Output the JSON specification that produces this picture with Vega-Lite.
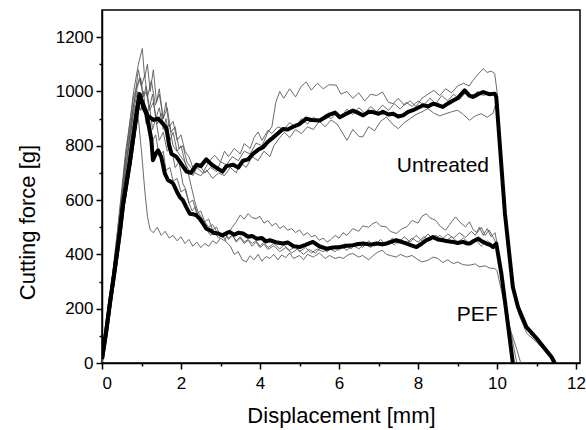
{
  "$schema": "https://vega.github.io/schema/vega-lite/v6.json",
  "width": 478,
  "height": 353,
  "autosize": {"type": "none"},
  "padding": {"left": 102, "top": 10, "right": 6, "bottom": 67},
  "background": "white",
  "config": {
    "view": {"stroke": "black", "strokeWidth": 1.5},
    "font": "Liberation Sans",
    "axis": {
      "domainColor": "black", "domainWidth": 1.5, "tickColor": "black", "tickWidth": 1.5,
      "labelFont": "Liberation Sans", "titleFont": "Liberation Sans",
      "labelFontSize": 17, "titleFontSize": 22, "labelColor": "black", "titleColor": "black",
      "titleFontWeight": "normal", "grid": false
    }
  },
  "datasets": {
    "thick": [
      {"s":"U","x":0,"y":15},{"s":"U","x":0.1,"y":110},{"s":"U","x":0.2,"y":220},{"s":"U","x":0.32,"y":341},{"s":"U","x":0.45,"y":480},{"s":"U","x":0.53,"y":580},{"s":"U","x":0.7,"y":734},{"s":"U","x":0.85,"y":890},{"s":"U","x":0.95,"y":990},
      {"s":"U","x":1.02,"y":960},{"s":"U","x":1.16,"y":910},{"s":"U","x":1.3,"y":895},{"s":"U","x":1.42,"y":900},{"s":"U","x":1.55,"y":880},{"s":"U","x":1.63,"y":865},{"s":"U","x":1.7,"y":800},{"s":"U","x":1.76,"y":770},{"s":"U","x":1.88,"y":760},{"s":"U","x":2.0,"y":735},{"s":"U","x":2.14,"y":705},{"s":"U","x":2.25,"y":700},{"s":"U","x":2.39,"y":730},{"s":"U","x":2.5,"y":725},{"s":"U","x":2.64,"y":750},{"s":"U","x":2.78,"y":730},{"s":"U","x":2.94,"y":715},{"s":"U","x":3.05,"y":705},{"s":"U","x":3.15,"y":725},{"s":"U","x":3.32,"y":730},{"s":"U","x":3.45,"y":720},{"s":"U","x":3.57,"y":745},{"s":"U","x":3.7,"y":750},{"s":"U","x":3.82,"y":770},{"s":"U","x":3.95,"y":785},{"s":"U","x":4.08,"y":795},{"s":"U","x":4.2,"y":815},{"s":"U","x":4.33,"y":830},{"s":"U","x":4.45,"y":845},{"s":"U","x":4.58,"y":862},{"s":"U","x":4.7,"y":860},{"s":"U","x":4.84,"y":870},{"s":"U","x":5.0,"y":880},{"s":"U","x":5.17,"y":900},{"s":"U","x":5.3,"y":895},{"s":"U","x":5.51,"y":893},{"s":"U","x":5.65,"y":905},{"s":"U","x":5.76,"y":915},{"s":"U","x":5.9,"y":922},{"s":"U","x":6.02,"y":905},{"s":"U","x":6.15,"y":915},{"s":"U","x":6.35,"y":930},{"s":"U","x":6.5,"y":920},{"s":"U","x":6.61,"y":912},{"s":"U","x":6.75,"y":925},{"s":"U","x":6.86,"y":924},{"s":"U","x":7.0,"y":918},{"s":"U","x":7.11,"y":925},{"s":"U","x":7.25,"y":915},{"s":"U","x":7.37,"y":918},{"s":"U","x":7.5,"y":908},{"s":"U","x":7.62,"y":912},{"s":"U","x":7.75,"y":925},{"s":"U","x":7.87,"y":931},{"s":"U","x":8.0,"y":940},{"s":"U","x":8.13,"y":949},{"s":"U","x":8.25,"y":945},{"s":"U","x":8.38,"y":955},{"s":"U","x":8.5,"y":950},{"s":"U","x":8.63,"y":943},{"s":"U","x":8.75,"y":955},{"s":"U","x":8.89,"y":967},{"s":"U","x":9.0,"y":975},{"s":"U","x":9.18,"y":1004},{"s":"U","x":9.3,"y":985},{"s":"U","x":9.39,"y":980},{"s":"U","x":9.52,"y":990},{"s":"U","x":9.65,"y":998},{"s":"U","x":9.8,"y":990},{"s":"U","x":9.94,"y":992},{"s":"U","x":9.98,"y":980},{"s":"U","x":10.2,"y":550},{"s":"U","x":10.4,"y":280},{"s":"U","x":10.53,"y":206},{"s":"U","x":10.74,"y":133},{"s":"U","x":11.04,"y":84},{"s":"U","x":11.38,"y":22},{"s":"U","x":11.46,"y":0},
      {"s":"P","x":0,"y":15},{"s":"P","x":0.1,"y":110},{"s":"P","x":0.2,"y":220},{"s":"P","x":0.32,"y":341},{"s":"P","x":0.45,"y":480},{"s":"P","x":0.53,"y":580},{"s":"P","x":0.7,"y":734},{"s":"P","x":0.85,"y":890},{"s":"P","x":0.95,"y":990},
      {"s":"P","x":1.05,"y":940},{"s":"P","x":1.12,"y":918},{"s":"P","x":1.2,"y":860},{"s":"P","x":1.25,"y":820},{"s":"P","x":1.29,"y":747},{"s":"P","x":1.36,"y":770},{"s":"P","x":1.42,"y":783},{"s":"P","x":1.5,"y":759},{"s":"P","x":1.59,"y":698},{"s":"P","x":1.67,"y":673},{"s":"P","x":1.74,"y":668},{"s":"P","x":1.8,"y":661},{"s":"P","x":1.92,"y":624},{"s":"P","x":1.97,"y":611},{"s":"P","x":2.05,"y":599},{"s":"P","x":2.13,"y":575},{"s":"P","x":2.22,"y":550},{"s":"P","x":2.3,"y":548},{"s":"P","x":2.39,"y":544},{"s":"P","x":2.47,"y":532},{"s":"P","x":2.56,"y":513},{"s":"P","x":2.64,"y":495},{"s":"P","x":2.73,"y":489},{"s":"P","x":2.82,"y":480},{"s":"P","x":2.94,"y":477},{"s":"P","x":3.05,"y":470},{"s":"P","x":3.15,"y":478},{"s":"P","x":3.23,"y":483},{"s":"P","x":3.35,"y":472},{"s":"P","x":3.45,"y":480},{"s":"P","x":3.57,"y":477},{"s":"P","x":3.7,"y":465},{"s":"P","x":3.8,"y":468},{"s":"P","x":3.91,"y":458},{"s":"P","x":4.05,"y":460},{"s":"P","x":4.15,"y":448},{"s":"P","x":4.25,"y":452},{"s":"P","x":4.4,"y":445},{"s":"P","x":4.58,"y":440},{"s":"P","x":4.7,"y":444},{"s":"P","x":4.85,"y":430},{"s":"P","x":5.0,"y":427},{"s":"P","x":5.15,"y":435},{"s":"P","x":5.34,"y":446},{"s":"P","x":5.5,"y":430},{"s":"P","x":5.68,"y":421},{"s":"P","x":5.85,"y":425},{"s":"P","x":6.02,"y":427},{"s":"P","x":6.2,"y":432},{"s":"P","x":6.35,"y":434},{"s":"P","x":6.5,"y":438},{"s":"P","x":6.61,"y":440},{"s":"P","x":6.8,"y":436},{"s":"P","x":6.95,"y":440},{"s":"P","x":7.1,"y":437},{"s":"P","x":7.2,"y":440},{"s":"P","x":7.35,"y":448},{"s":"P","x":7.45,"y":452},{"s":"P","x":7.6,"y":445},{"s":"P","x":7.71,"y":440},{"s":"P","x":7.85,"y":432},{"s":"P","x":7.96,"y":427},{"s":"P","x":8.1,"y":440},{"s":"P","x":8.21,"y":452},{"s":"P","x":8.3,"y":458},{"s":"P","x":8.38,"y":464},{"s":"P","x":8.5,"y":455},{"s":"P","x":8.63,"y":452},{"s":"P","x":8.75,"y":448},{"s":"P","x":8.89,"y":446},{"s":"P","x":9.0,"y":442},{"s":"P","x":9.14,"y":446},{"s":"P","x":9.25,"y":440},{"s":"P","x":9.31,"y":440},{"s":"P","x":9.42,"y":450},{"s":"P","x":9.52,"y":458},{"s":"P","x":9.62,"y":448},{"s":"P","x":9.73,"y":440},{"s":"P","x":9.82,"y":435},{"s":"P","x":9.9,"y":427},{"s":"P","x":9.98,"y":440},{"s":"P","x":10.11,"y":329},{"s":"P","x":10.24,"y":182},{"s":"P","x":10.4,"y":0}
    ],
    "thin": [
      {"s":"U1","x":0,"y":10},{"s":"U1","x":0.2,"y":230},{"s":"U1","x":0.4,"y":470},{"s":"U1","x":0.6,"y":760},{"s":"U1","x":0.8,"y":1000},{"s":"U1","x":0.92,"y":1100},{"s":"U1","x":1.02,"y":1158},{"s":"U1","x":1.08,"y":1050},{"s":"U1","x":1.15,"y":1100},{"s":"U1","x":1.22,"y":1000},{"s":"U1","x":1.3,"y":1080},{"s":"U1","x":1.38,"y":960},{"s":"U1","x":1.45,"y":1010},{"s":"U1","x":1.55,"y":900},{"s":"U1","x":1.62,"y":960},{"s":"U1","x":1.7,"y":870},{"s":"U1","x":1.8,"y":890},{"s":"U1","x":1.9,"y":820},{"s":"U1","x":2.0,"y":840},{"s":"U1","x":2.1,"y":780},{"s":"U1","x":2.2,"y":760},{"s":"U1","x":2.3,"y":720},{"s":"U1","x":2.45,"y":735},{"s":"U1","x":2.6,"y":700},{"s":"U1","x":2.75,"y":720},{"s":"U1","x":2.9,"y":705},{"s":"U1","x":3.0,"y":740},{"s":"U1","x":3.15,"y":730},{"s":"U1","x":3.3,"y":760},{"s":"U1","x":3.45,"y":745},{"s":"U1","x":3.6,"y":780},{"s":"U1","x":3.75,"y":770},{"s":"U1","x":3.9,"y":810},{"s":"U1","x":4.05,"y":800},{"s":"U1","x":4.2,"y":850},{"s":"U1","x":4.3,"y":870},{"s":"U1","x":4.4,"y":960},{"s":"U1","x":4.5,"y":1000},{"s":"U1","x":4.6,"y":975},{"s":"U1","x":4.75,"y":1010},{"s":"U1","x":4.9,"y":980},{"s":"U1","x":5.05,"y":1020},{"s":"U1","x":5.17,"y":1035},{"s":"U1","x":5.3,"y":1005},{"s":"U1","x":5.45,"y":1030},{"s":"U1","x":5.6,"y":1010},{"s":"U1","x":5.75,"y":1025},{"s":"U1","x":5.93,"y":1023},{"s":"U1","x":6.05,"y":990},{"s":"U1","x":6.2,"y":1000},{"s":"U1","x":6.35,"y":975},{"s":"U1","x":6.5,"y":995},{"s":"U1","x":6.65,"y":965},{"s":"U1","x":6.8,"y":990},{"s":"U1","x":6.95,"y":985},{"s":"U1","x":7.1,"y":998},{"s":"U1","x":7.25,"y":960},{"s":"U1","x":7.37,"y":955},{"s":"U1","x":7.5,"y":975},{"s":"U1","x":7.65,"y":950},{"s":"U1","x":7.8,"y":965},{"s":"U1","x":7.95,"y":945},{"s":"U1","x":8.1,"y":975},{"s":"U1","x":8.25,"y":990},{"s":"U1","x":8.4,"y":1004},{"s":"U1","x":8.55,"y":985},{"s":"U1","x":8.7,"y":1010},{"s":"U1","x":8.85,"y":995},{"s":"U1","x":9.0,"y":1020},{"s":"U1","x":9.15,"y":1030},{"s":"U1","x":9.3,"y":1020},{"s":"U1","x":9.39,"y":1041},{"s":"U1","x":9.5,"y":1060},{"s":"U1","x":9.65,"y":1084},{"s":"U1","x":9.75,"y":1070},{"s":"U1","x":9.85,"y":1075},{"s":"U1","x":9.94,"y":1066},{"s":"U1","x":10.0,"y":1000},{"s":"U1","x":10.2,"y":560},{"s":"U1","x":10.4,"y":290},{"s":"U1","x":10.55,"y":200},{"s":"U1","x":10.75,"y":130},{"s":"U1","x":11.05,"y":80},{"s":"U1","x":11.4,"y":15},{"s":"U1","x":11.48,"y":0},
      {"s":"U2","x":0,"y":5},{"s":"U2","x":0.2,"y":200},{"s":"U2","x":0.4,"y":440},{"s":"U2","x":0.6,"y":700},{"s":"U2","x":0.75,"y":900},{"s":"U2","x":0.85,"y":1000},{"s":"U2","x":0.92,"y":1080},{"s":"U2","x":1.0,"y":1020},{"s":"U2","x":1.08,"y":1060},{"s":"U2","x":1.15,"y":980},{"s":"U2","x":1.25,"y":1040},{"s":"U2","x":1.35,"y":950},{"s":"U2","x":1.45,"y":990},{"s":"U2","x":1.55,"y":900},{"s":"U2","x":1.65,"y":940},{"s":"U2","x":1.75,"y":850},{"s":"U2","x":1.85,"y":870},{"s":"U2","x":1.95,"y":790},{"s":"U2","x":2.05,"y":800},{"s":"U2","x":2.15,"y":740},{"s":"U2","x":2.25,"y":720},{"s":"U2","x":2.35,"y":700},{"s":"U2","x":2.5,"y":690},{"s":"U2","x":2.65,"y":710},{"s":"U2","x":2.8,"y":680},{"s":"U2","x":2.95,"y":700},{"s":"U2","x":3.1,"y":690},{"s":"U2","x":3.25,"y":720},{"s":"U2","x":3.4,"y":700},{"s":"U2","x":3.5,"y":740},{"s":"U2","x":3.65,"y":720},{"s":"U2","x":3.8,"y":760},{"s":"U2","x":3.95,"y":745},{"s":"U2","x":4.1,"y":780},{"s":"U2","x":4.25,"y":760},{"s":"U2","x":4.35,"y":800},{"s":"U2","x":4.5,"y":830},{"s":"U2","x":4.62,"y":850},{"s":"U2","x":4.75,"y":830},{"s":"U2","x":4.9,"y":860},{"s":"U2","x":5.05,"y":845},{"s":"U2","x":5.2,"y":870},{"s":"U2","x":5.35,"y":860},{"s":"U2","x":5.5,"y":890},{"s":"U2","x":5.65,"y":870},{"s":"U2","x":5.8,"y":895},{"s":"U2","x":5.95,"y":880},{"s":"U2","x":6.05,"y":857},{"s":"U2","x":6.2,"y":820},{"s":"U2","x":6.35,"y":860},{"s":"U2","x":6.5,"y":835},{"s":"U2","x":6.6,"y":832},{"s":"U2","x":6.75,"y":870},{"s":"U2","x":6.9,"y":855},{"s":"U2","x":7.05,"y":890},{"s":"U2","x":7.2,"y":906},{"s":"U2","x":7.35,"y":880},{"s":"U2","x":7.5,"y":863},{"s":"U2","x":7.65,"y":885},{"s":"U2","x":7.8,"y":900},{"s":"U2","x":7.95,"y":915},{"s":"U2","x":8.1,"y":925},{"s":"U2","x":8.25,"y":937},{"s":"U2","x":8.4,"y":920},{"s":"U2","x":8.55,"y":910},{"s":"U2","x":8.7,"y":918},{"s":"U2","x":8.85,"y":925},{"s":"U2","x":9.0,"y":931},{"s":"U2","x":9.15,"y":915},{"s":"U2","x":9.3,"y":894},{"s":"U2","x":9.45,"y":910},{"s":"U2","x":9.6,"y":918},{"s":"U2","x":9.75,"y":905},{"s":"U2","x":9.9,"y":920},{"s":"U2","x":9.98,"y":960},{"s":"U2","x":10.2,"y":540},{"s":"U2","x":10.4,"y":275},{"s":"U2","x":10.55,"y":190},{"s":"U2","x":10.7,"y":140},{"s":"U2","x":11.0,"y":90},{"s":"U2","x":11.3,"y":35},{"s":"U2","x":11.42,"y":0},
      {"s":"U3","x":0,"y":20},{"s":"U3","x":0.2,"y":240},{"s":"U3","x":0.4,"y":500},{"s":"U3","x":0.6,"y":780},{"s":"U3","x":0.8,"y":980},{"s":"U3","x":0.95,"y":1050},{"s":"U3","x":1.05,"y":980},{"s":"U3","x":1.12,"y":1000},{"s":"U3","x":1.2,"y":930},{"s":"U3","x":1.3,"y":960},{"s":"U3","x":1.4,"y":880},{"s":"U3","x":1.5,"y":920},{"s":"U3","x":1.6,"y":850},{"s":"U3","x":1.7,"y":880},{"s":"U3","x":1.8,"y":800},{"s":"U3","x":1.9,"y":780},{"s":"U3","x":2.0,"y":760},{"s":"U3","x":2.1,"y":740},{"s":"U3","x":2.2,"y":710},{"s":"U3","x":2.3,"y":690},{"s":"U3","x":2.4,"y":720},{"s":"U3","x":2.55,"y":700},{"s":"U3","x":2.7,"y":740},{"s":"U3","x":2.85,"y":765},{"s":"U3","x":3.0,"y":740},{"s":"U3","x":3.1,"y":780},{"s":"U3","x":3.2,"y":760},{"s":"U3","x":3.35,"y":790},{"s":"U3","x":3.5,"y":770},{"s":"U3","x":3.6,"y":808},{"s":"U3","x":3.75,"y":790},{"s":"U3","x":3.85,"y":830},{"s":"U3","x":3.95,"y":851},{"s":"U3","x":4.05,"y":820},{"s":"U3","x":4.2,"y":857},{"s":"U3","x":4.3,"y":845},{"s":"U3","x":4.45,"y":870},{"s":"U3","x":4.6,"y":860},{"s":"U3","x":4.75,"y":885},{"s":"U3","x":4.9,"y":870},{"s":"U3","x":5.05,"y":900},{"s":"U3","x":5.2,"y":880},{"s":"U3","x":5.35,"y":905},{"s":"U3","x":5.5,"y":890},{"s":"U3","x":5.65,"y":915},{"s":"U3","x":5.8,"y":900},{"s":"U3","x":5.93,"y":920},{"s":"U3","x":6.05,"y":905},{"s":"U3","x":6.2,"y":935},{"s":"U3","x":6.35,"y":915},{"s":"U3","x":6.5,"y":940},{"s":"U3","x":6.65,"y":920},{"s":"U3","x":6.8,"y":945},{"s":"U3","x":6.95,"y":925},{"s":"U3","x":7.1,"y":950},{"s":"U3","x":7.25,"y":930},{"s":"U3","x":7.4,"y":955},{"s":"U3","x":7.55,"y":935},{"s":"U3","x":7.7,"y":960},{"s":"U3","x":7.85,"y":945},{"s":"U3","x":8.0,"y":965},{"s":"U3","x":8.15,"y":950},{"s":"U3","x":8.3,"y":975},{"s":"U3","x":8.45,"y":955},{"s":"U3","x":8.6,"y":985},{"s":"U3","x":8.75,"y":965},{"s":"U3","x":8.9,"y":990},{"s":"U3","x":9.05,"y":970},{"s":"U3","x":9.2,"y":995},{"s":"U3","x":9.35,"y":975},{"s":"U3","x":9.5,"y":1000},{"s":"U3","x":9.65,"y":985},{"s":"U3","x":9.8,"y":995},{"s":"U3","x":9.95,"y":985},{"s":"U3","x":10.0,"y":970},{"s":"U3","x":10.2,"y":545},{"s":"U3","x":10.4,"y":282},{"s":"U3","x":10.55,"y":180},{"s":"U3","x":10.75,"y":110},{"s":"U3","x":11.05,"y":70},{"s":"U3","x":11.38,"y":15},{"s":"U3","x":11.46,"y":0},
      {"s":"P1","x":0,"y":0},{"s":"P1","x":0.2,"y":180},{"s":"P1","x":0.4,"y":420},{"s":"P1","x":0.6,"y":680},{"s":"P1","x":0.75,"y":850},{"s":"P1","x":0.85,"y":940},{"s":"P1","x":0.92,"y":900},{"s":"P1","x":1.0,"y":780},{"s":"P1","x":1.08,"y":640},{"s":"P1","x":1.15,"y":540},{"s":"P1","x":1.22,"y":490},{"s":"P1","x":1.3,"y":480},{"s":"P1","x":1.4,"y":500},{"s":"P1","x":1.5,"y":470},{"s":"P1","x":1.6,"y":485},{"s":"P1","x":1.7,"y":460},{"s":"P1","x":1.8,"y":470},{"s":"P1","x":1.9,"y":450},{"s":"P1","x":2.0,"y":465},{"s":"P1","x":2.1,"y":440},{"s":"P1","x":2.2,"y":455},{"s":"P1","x":2.3,"y":430},{"s":"P1","x":2.4,"y":445},{"s":"P1","x":2.5,"y":425},{"s":"P1","x":2.6,"y":440},{"s":"P1","x":2.7,"y":430},{"s":"P1","x":2.8,"y":450},{"s":"P1","x":2.9,"y":440},{"s":"P1","x":3.0,"y":460},{"s":"P1","x":3.1,"y":450},{"s":"P1","x":3.2,"y":480},{"s":"P1","x":3.3,"y":501},{"s":"P1","x":3.4,"y":520},{"s":"P1","x":3.5,"y":545},{"s":"P1","x":3.6,"y":530},{"s":"P1","x":3.7,"y":550},{"s":"P1","x":3.8,"y":535},{"s":"P1","x":3.9,"y":532},{"s":"P1","x":4.0,"y":540},{"s":"P1","x":4.1,"y":515},{"s":"P1","x":4.2,"y":525},{"s":"P1","x":4.3,"y":505},{"s":"P1","x":4.4,"y":515},{"s":"P1","x":4.5,"y":495},{"s":"P1","x":4.6,"y":505},{"s":"P1","x":4.7,"y":489},{"s":"P1","x":4.8,"y":495},{"s":"P1","x":4.9,"y":480},{"s":"P1","x":5.0,"y":490},{"s":"P1","x":5.1,"y":470},{"s":"P1","x":5.2,"y":480},{"s":"P1","x":5.3,"y":465},{"s":"P1","x":5.4,"y":470},{"s":"P1","x":5.5,"y":452},{"s":"P1","x":5.6,"y":460},{"s":"P1","x":5.7,"y":445},{"s":"P1","x":5.8,"y":455},{"s":"P1","x":5.9,"y":470},{"s":"P1","x":6.0,"y":460},{"s":"P1","x":6.1,"y":480},{"s":"P1","x":6.2,"y":470},{"s":"P1","x":6.35,"y":495},{"s":"P1","x":6.5,"y":485},{"s":"P1","x":6.6,"y":505},{"s":"P1","x":6.75,"y":500},{"s":"P1","x":6.85,"y":513},{"s":"P1","x":6.95,"y":519},{"s":"P1","x":7.05,"y":505},{"s":"P1","x":7.2,"y":501},{"s":"P1","x":7.3,"y":485},{"s":"P1","x":7.45,"y":477},{"s":"P1","x":7.6,"y":495},{"s":"P1","x":7.71,"y":501},{"s":"P1","x":7.85,"y":525},{"s":"P1","x":8.0,"y":515},{"s":"P1","x":8.1,"y":540},{"s":"P1","x":8.21,"y":550},{"s":"P1","x":8.3,"y":535},{"s":"P1","x":8.45,"y":525},{"s":"P1","x":8.55,"y":505},{"s":"P1","x":8.7,"y":489},{"s":"P1","x":8.8,"y":510},{"s":"P1","x":8.95,"y":538},{"s":"P1","x":9.05,"y":520},{"s":"P1","x":9.2,"y":501},{"s":"P1","x":9.3,"y":520},{"s":"P1","x":9.4,"y":490},{"s":"P1","x":9.5,"y":480},{"s":"P1","x":9.6,"y":500},{"s":"P1","x":9.7,"y":470},{"s":"P1","x":9.8,"y":490},{"s":"P1","x":9.9,"y":464},{"s":"P1","x":9.98,"y":440},{"s":"P1","x":10.1,"y":320},{"s":"P1","x":10.25,"y":170},{"s":"P1","x":10.42,"y":0},
      {"s":"P2","x":0,"y":10},{"s":"P2","x":0.2,"y":210},{"s":"P2","x":0.4,"y":470},{"s":"P2","x":0.6,"y":730},{"s":"P2","x":0.8,"y":930},{"s":"P2","x":0.9,"y":1000},{"s":"P2","x":0.97,"y":960},{"s":"P2","x":1.05,"y":1000},{"s":"P2","x":1.12,"y":900},{"s":"P2","x":1.2,"y":950},{"s":"P2","x":1.28,"y":860},{"s":"P2","x":1.36,"y":900},{"s":"P2","x":1.45,"y":820},{"s":"P2","x":1.55,"y":850},{"s":"P2","x":1.65,"y":780},{"s":"P2","x":1.75,"y":800},{"s":"P2","x":1.85,"y":720},{"s":"P2","x":1.95,"y":740},{"s":"P2","x":2.05,"y":660},{"s":"P2","x":2.12,"y":640},{"s":"P2","x":2.2,"y":590},{"s":"P2","x":2.28,"y":560},{"s":"P2","x":2.36,"y":575},{"s":"P2","x":2.45,"y":530},{"s":"P2","x":2.55,"y":510},{"s":"P2","x":2.65,"y":490},{"s":"P2","x":2.75,"y":470},{"s":"P2","x":2.85,"y":480},{"s":"P2","x":2.95,"y":460},{"s":"P2","x":3.05,"y":470},{"s":"P2","x":3.15,"y":445},{"s":"P2","x":3.25,"y":430},{"s":"P2","x":3.35,"y":400},{"s":"P2","x":3.45,"y":410},{"s":"P2","x":3.55,"y":380},{"s":"P2","x":3.65,"y":372},{"s":"P2","x":3.75,"y":395},{"s":"P2","x":3.85,"y":380},{"s":"P2","x":3.95,"y":400},{"s":"P2","x":4.05,"y":375},{"s":"P2","x":4.15,"y":392},{"s":"P2","x":4.25,"y":385},{"s":"P2","x":4.35,"y":400},{"s":"P2","x":4.45,"y":380},{"s":"P2","x":4.55,"y":398},{"s":"P2","x":4.65,"y":388},{"s":"P2","x":4.75,"y":405},{"s":"P2","x":4.85,"y":385},{"s":"P2","x":5.0,"y":396},{"s":"P2","x":5.1,"y":380},{"s":"P2","x":5.2,"y":400},{"s":"P2","x":5.35,"y":390},{"s":"P2","x":5.5,"y":405},{"s":"P2","x":5.65,"y":385},{"s":"P2","x":5.76,"y":396},{"s":"P2","x":5.9,"y":385},{"s":"P2","x":6.02,"y":390},{"s":"P2","x":6.1,"y":385},{"s":"P2","x":6.25,"y":400},{"s":"P2","x":6.35,"y":403},{"s":"P2","x":6.5,"y":390},{"s":"P2","x":6.6,"y":396},{"s":"P2","x":6.75,"y":380},{"s":"P2","x":6.9,"y":400},{"s":"P2","x":7.0,"y":410},{"s":"P2","x":7.1,"y":415},{"s":"P2","x":7.2,"y":400},{"s":"P2","x":7.3,"y":396},{"s":"P2","x":7.45,"y":390},{"s":"P2","x":7.55,"y":400},{"s":"P2","x":7.71,"y":390},{"s":"P2","x":7.85,"y":396},{"s":"P2","x":8.0,"y":380},{"s":"P2","x":8.1,"y":372},{"s":"P2","x":8.25,"y":378},{"s":"P2","x":8.38,"y":390},{"s":"P2","x":8.5,"y":385},{"s":"P2","x":8.63,"y":370},{"s":"P2","x":8.75,"y":380},{"s":"P2","x":8.89,"y":366},{"s":"P2","x":9.0,"y":372},{"s":"P2","x":9.14,"y":362},{"s":"P2","x":9.3,"y":360},{"s":"P2","x":9.45,"y":365},{"s":"P2","x":9.55,"y":354},{"s":"P2","x":9.7,"y":358},{"s":"P2","x":9.8,"y":350},{"s":"P2","x":9.94,"y":348},{"s":"P2","x":10.0,"y":340},{"s":"P2","x":10.12,"y":260},{"s":"P2","x":10.3,"y":140},{"s":"P2","x":10.5,"y":50},{"s":"P2","x":10.6,"y":0},
      {"s":"P3","x":0,"y":15},{"s":"P3","x":0.2,"y":230},{"s":"P3","x":0.4,"y":490},{"s":"P3","x":0.6,"y":760},{"s":"P3","x":0.8,"y":950},{"s":"P3","x":0.9,"y":1020},{"s":"P3","x":0.98,"y":1050},{"s":"P3","x":1.05,"y":980},{"s":"P3","x":1.12,"y":1020},{"s":"P3","x":1.2,"y":940},{"s":"P3","x":1.28,"y":990},{"s":"P3","x":1.36,"y":900},{"s":"P3","x":1.45,"y":940},{"s":"P3","x":1.55,"y":860},{"s":"P3","x":1.62,"y":900},{"s":"P3","x":1.72,"y":820},{"s":"P3","x":1.8,"y":850},{"s":"P3","x":1.9,"y":780},{"s":"P3","x":2.0,"y":800},{"s":"P3","x":2.1,"y":740},{"s":"P3","x":2.18,"y":700},{"s":"P3","x":2.26,"y":650},{"s":"P3","x":2.34,"y":600},{"s":"P3","x":2.42,"y":560},{"s":"P3","x":2.5,"y":540},{"s":"P3","x":2.6,"y":520},{"s":"P3","x":2.7,"y":500},{"s":"P3","x":2.8,"y":510},{"s":"P3","x":2.9,"y":485},{"s":"P3","x":3.0,"y":470},{"s":"P3","x":3.1,"y":480},{"s":"P3","x":3.2,"y":460},{"s":"P3","x":3.3,"y":470},{"s":"P3","x":3.4,"y":450},{"s":"P3","x":3.5,"y":465},{"s":"P3","x":3.6,"y":445},{"s":"P3","x":3.7,"y":455},{"s":"P3","x":3.8,"y":440},{"s":"P3","x":3.9,"y":450},{"s":"P3","x":4.0,"y":430},{"s":"P3","x":4.1,"y":445},{"s":"P3","x":4.2,"y":425},{"s":"P3","x":4.35,"y":440},{"s":"P3","x":4.5,"y":420},{"s":"P3","x":4.6,"y":435},{"s":"P3","x":4.75,"y":415},{"s":"P3","x":4.9,"y":430},{"s":"P3","x":5.0,"y":410},{"s":"P3","x":5.15,"y":425},{"s":"P3","x":5.3,"y":405},{"s":"P3","x":5.45,"y":420},{"s":"P3","x":5.6,"y":410},{"s":"P3","x":5.76,"y":421},{"s":"P3","x":5.9,"y":410},{"s":"P3","x":6.05,"y":430},{"s":"P3","x":6.2,"y":415},{"s":"P3","x":6.35,"y":435},{"s":"P3","x":6.5,"y":420},{"s":"P3","x":6.65,"y":440},{"s":"P3","x":6.8,"y":425},{"s":"P3","x":6.95,"y":445},{"s":"P3","x":7.1,"y":430},{"s":"P3","x":7.25,"y":450},{"s":"P3","x":7.4,"y":435},{"s":"P3","x":7.55,"y":455},{"s":"P3","x":7.7,"y":440},{"s":"P3","x":7.85,"y":460},{"s":"P3","x":8.0,"y":445},{"s":"P3","x":8.15,"y":465},{"s":"P3","x":8.3,"y":450},{"s":"P3","x":8.45,"y":470},{"s":"P3","x":8.6,"y":455},{"s":"P3","x":8.75,"y":475},{"s":"P3","x":8.9,"y":460},{"s":"P3","x":9.05,"y":480},{"s":"P3","x":9.2,"y":462},{"s":"P3","x":9.35,"y":485},{"s":"P3","x":9.45,"y":470},{"s":"P3","x":9.55,"y":500},{"s":"P3","x":9.65,"y":470},{"s":"P3","x":9.75,"y":495},{"s":"P3","x":9.85,"y":465},{"s":"P3","x":9.95,"y":480},{"s":"P3","x":10.0,"y":440},{"s":"P3","x":10.12,"y":320},{"s":"P3","x":10.26,"y":170},{"s":"P3","x":10.42,"y":5},{"s":"P3","x":10.45,"y":0},
      {"s":"P4","x":0,"y":5},{"s":"P4","x":0.2,"y":200},{"s":"P4","x":0.4,"y":450},{"s":"P4","x":0.6,"y":720},{"s":"P4","x":0.8,"y":920},{"s":"P4","x":0.9,"y":970},{"s":"P4","x":0.98,"y":930},{"s":"P4","x":1.05,"y":960},{"s":"P4","x":1.12,"y":880},{"s":"P4","x":1.2,"y":900},{"s":"P4","x":1.28,"y":820},{"s":"P4","x":1.36,"y":840},{"s":"P4","x":1.45,"y":760},{"s":"P4","x":1.55,"y":780},{"s":"P4","x":1.62,"y":710},{"s":"P4","x":1.72,"y":720},{"s":"P4","x":1.8,"y":670},{"s":"P4","x":1.9,"y":680},{"s":"P4","x":2.0,"y":630},{"s":"P4","x":2.1,"y":640},{"s":"P4","x":2.2,"y":590},{"s":"P4","x":2.3,"y":600},{"s":"P4","x":2.4,"y":550},{"s":"P4","x":2.5,"y":560},{"s":"P4","x":2.6,"y":520},{"s":"P4","x":2.7,"y":530},{"s":"P4","x":2.8,"y":490},{"s":"P4","x":2.9,"y":500},{"s":"P4","x":3.0,"y":470},{"s":"P4","x":3.1,"y":480},{"s":"P4","x":3.2,"y":455},{"s":"P4","x":3.3,"y":470},{"s":"P4","x":3.4,"y":445},{"s":"P4","x":3.5,"y":460},{"s":"P4","x":3.6,"y":440},{"s":"P4","x":3.7,"y":452},{"s":"P4","x":3.8,"y":430},{"s":"P4","x":3.9,"y":445},{"s":"P4","x":4.0,"y":425},{"s":"P4","x":4.1,"y":438},{"s":"P4","x":4.2,"y":418},{"s":"P4","x":4.35,"y":432},{"s":"P4","x":4.5,"y":410},{"s":"P4","x":4.65,"y":425},{"s":"P4","x":4.8,"y":405},{"s":"P4","x":4.95,"y":420},{"s":"P4","x":5.1,"y":400},{"s":"P4","x":5.25,"y":418},{"s":"P4","x":5.4,"y":405},{"s":"P4","x":5.55,"y":425},{"s":"P4","x":5.7,"y":410},{"s":"P4","x":5.85,"y":430},{"s":"P4","x":6.0,"y":415},{"s":"P4","x":6.15,"y":440},{"s":"P4","x":6.3,"y":420},{"s":"P4","x":6.45,"y":445},{"s":"P4","x":6.6,"y":425},{"s":"P4","x":6.75,"y":450},{"s":"P4","x":6.9,"y":430},{"s":"P4","x":7.05,"y":455},{"s":"P4","x":7.2,"y":435},{"s":"P4","x":7.35,"y":460},{"s":"P4","x":7.5,"y":440},{"s":"P4","x":7.65,"y":465},{"s":"P4","x":7.8,"y":445},{"s":"P4","x":7.95,"y":470},{"s":"P4","x":8.1,"y":450},{"s":"P4","x":8.25,"y":475},{"s":"P4","x":8.4,"y":455},{"s":"P4","x":8.55,"y":470},{"s":"P4","x":8.7,"y":450},{"s":"P4","x":8.85,"y":465},{"s":"P4","x":9.0,"y":445},{"s":"P4","x":9.15,"y":460},{"s":"P4","x":9.3,"y":440},{"s":"P4","x":9.45,"y":455},{"s":"P4","x":9.6,"y":430},{"s":"P4","x":9.75,"y":450},{"s":"P4","x":9.9,"y":435},{"s":"P4","x":10.0,"y":420},{"s":"P4","x":10.15,"y":290},{"s":"P4","x":10.3,"y":150},{"s":"P4","x":10.5,"y":0}
    ],
    "labels": [
      {"x": 8.63, "y": 702, "text": "Untreated"},
      {"x": 9.5, "y": 155, "text": "PEF"}
    ]
  },
  "encoding": {
    "x": {
      "field": "x", "type": "quantitative",
      "scale": {"domain": [0, 12.1], "nice": false, "zero": false},
      "axis": {
        "title": "Displacement [mm]",
        "values": [0,1,2,3,4,5,6,7,8,9,10,11,12],
        "labelExpr": "datum.value % 2 === 0 ? datum.label : ''",
        "tickSize": {"condition": {"test": "datum.value % 2 === 0", "value": 6}, "value": 3},
        "labelPadding": 6,
        "titlePadding": 14
      }
    },
    "y": {
      "field": "y", "type": "quantitative",
      "scale": {"domain": [0, 1300], "nice": false},
      "axis": {
        "title": "Cutting force [g]",
        "values": [0,100,200,300,400,500,600,700,800,900,1000,1100,1200],
        "labelExpr": "datum.value % 200 === 0 ? datum.label : ''",
        "format": "d",
        "tickSize": {"condition": {"test": "datum.value % 200 === 0", "value": 6}, "value": 3},
        "labelPadding": 3,
        "titleAngle": -90,
        "titleAlign": "center",
        "titleBaseline": "middle",
        "titleX": -75,
        "titleY": 212
      }
    }
  },
  "layer": [
    {
      "data": {"name": "thin"},
      "mark": {"type": "line", "stroke": "#5a5a5a", "strokeWidth": 0.9, "clip": true},
      "encoding": {"detail": {"field": "s"}}
    },
    {
      "data": {"name": "thick"},
      "mark": {"type": "line", "stroke": "black", "strokeWidth": 4, "strokeJoin": "round", "clip": true},
      "encoding": {"detail": {"field": "s"}}
    },
    {
      "data": {"name": "labels"},
      "mark": {"type": "text", "font": "Liberation Sans", "fontSize": 21, "align": "center", "baseline": "alphabetic", "color": "black"},
      "encoding": {"text": {"field": "text"}}
    }
  ]
}
